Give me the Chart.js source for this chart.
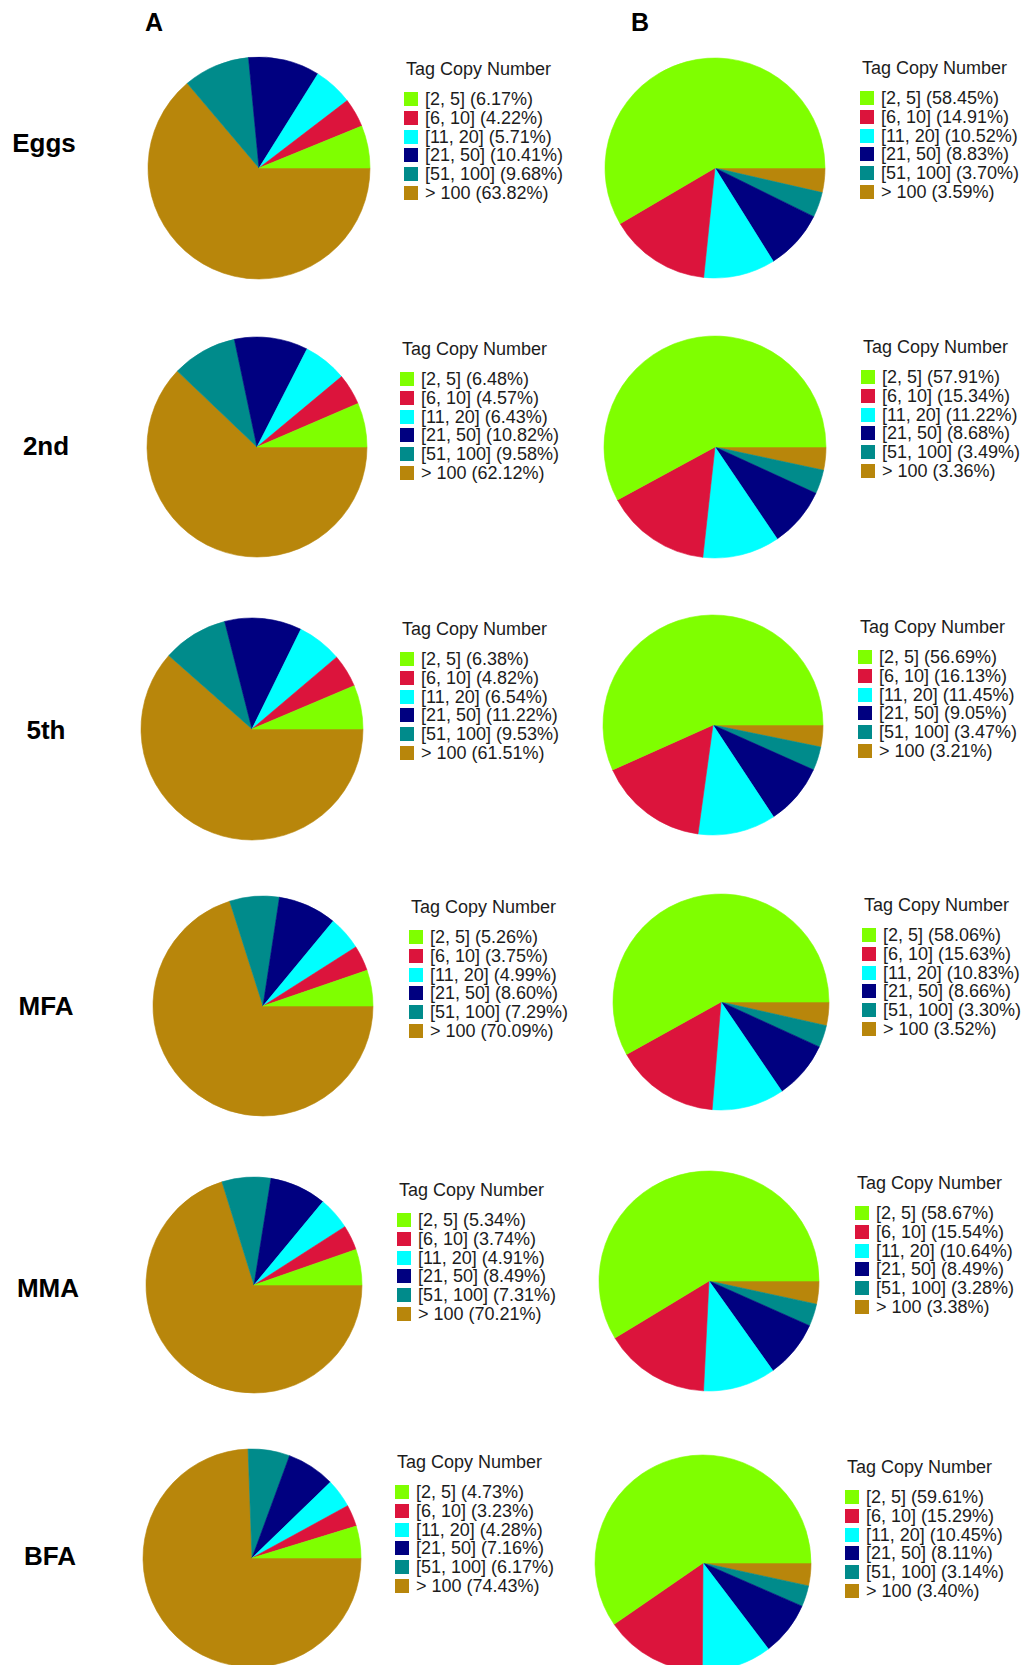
<!DOCTYPE html>
<html>
<head>
<meta charset="utf-8">
<script src="https://cdn.jsdelivr.net/npm/chart.js@4.4.0/dist/chart.umd.min.js"></script>
<style>
  html, body { margin: 0; padding: 0; background: #ffffff; }
  body { width: 1026px; height: 1665px; position: relative; overflow: hidden; font-family: "Liberation Sans", Arial, sans-serif; }
  .hdr { position: absolute; font-weight: bold; font-size: 25px; color: #000; line-height: 1; transform: translate(-50%, -50%); white-space: nowrap; }
  .row { position: absolute; font-weight: bold; font-size: 26px; color: #000; line-height: 1; transform: translate(-50%, -50%); white-space: nowrap; }
  .pie { position: absolute; }
  .lg { position: absolute; font-size: 18px; color: #1c1c1c; white-space: nowrap; line-height: 1; }
  .lg .t { position: absolute; left: 2px; transform: translateY(-50%); }
  .lg .it { position: absolute; left: 0; height: 18px; transform: translateY(-50%); display: flex; align-items: center; }
  .lg .sw { width: 14px; height: 14px; margin-right: 7px; flex: none; }
</style>
</head>
<body>
<script>
// ---- data ----
const categories = ['[2, 5]', '[6, 10]', '[11, 20]', '[21, 50]', '[51, 100]', '> 100'];
const stages = ['Eggs', '2nd', '5th', 'MFA', 'MMA', 'BFA'];
const columns = ['A', 'B'];
const legendTitle = 'Tag Copy Number';

// Panel A (percent of tags by copy-number class)
const eggsA   = [6.17, 4.22, 5.71, 10.41, 9.68, 63.82];
const secondA = [6.48, 4.57, 6.43, 10.82, 9.58, 62.12];
const fifthA  = [6.38, 4.82, 6.54, 11.22, 9.53, 61.51];
const mfaA    = [5.26, 3.75, 4.99, 8.60, 7.29, 70.09];
const mmaA    = [5.34, 3.74, 4.91, 8.49, 7.31, 70.21];
const bfaA    = [4.73, 3.23, 4.28, 7.16, 6.17, 74.43];

// Panel B
const eggsB   = [58.45, 14.91, 10.52, 8.83, 3.70, 3.59];
const secondB = [57.91, 15.34, 11.22, 8.68, 3.49, 3.36];
const fifthB  = [56.69, 16.13, 11.45, 9.05, 3.47, 3.21];
const mfaB    = [58.06, 15.63, 10.83, 8.66, 3.30, 3.52];
const mmaB    = [58.67, 15.54, 10.64, 8.49, 3.28, 3.38];
const bfaB    = [59.61, 15.29, 10.45, 8.11, 3.14, 3.40];

const seriesA = [eggsA, secondA, fifthA, mfaA, mmaA, bfaA];
const seriesB = [eggsB, secondB, fifthB, mfaB, mmaB, bfaB];

// ---- styles / layout ----
const colors = ['#7FFF00', '#DC143C', '#00FFFF', '#000080', '#008B8B', '#B8860B'];

const headerPos = [[154, 22], [640, 22]];
const rowLabelPos = [[44, 143], [46, 446], [46, 730], [46, 1006], [48, 1288], [50, 1556]];

// pie centre x, centre y, radius
const pieGeomA = [[259, 168, 111], [257, 447, 110], [252, 729, 111], [263, 1006, 110], [254, 1285, 108], [252, 1558, 109]];
const pieGeomB = [[715, 168, 110], [715, 447, 111], [713, 725, 110], [721, 1002, 108], [709, 1281, 110], [703, 1563, 108]];

// legend left x, title centre y
const legendPosA = [[404, 69], [400, 349], [400, 629], [409, 907], [397, 1190], [395, 1462]];
const legendPosB = [[860, 68], [861, 347], [858, 627], [862, 905], [855, 1183], [845, 1467]];

const itemGap = 18.8;
const firstItemOffset = 30;

function addText(cls, txt, x, y) {
  const d = document.createElement('div');
  d.className = cls;
  d.textContent = txt;
  d.style.left = x + 'px';
  d.style.top = y + 'px';
  document.body.appendChild(d);
}

columns.forEach((c, i) => addText('hdr', c, headerPos[i][0], headerPos[i][1]));
stages.forEach((s, i) => addText('row', s, rowLabelPos[i][0], rowLabelPos[i][1]));

function makeLegend(values, pos) {
  const lg = document.createElement('div');
  lg.className = 'lg';
  lg.style.left = pos[0] + 'px';
  lg.style.top = pos[1] + 'px';
  const t = document.createElement('div');
  t.className = 't';
  t.style.top = '0px';
  t.textContent = legendTitle;
  lg.appendChild(t);
  categories.forEach((cat, k) => {
    const it = document.createElement('div');
    it.className = 'it';
    it.style.top = (firstItemOffset + k * itemGap) + 'px';
    const sw = document.createElement('span');
    sw.className = 'sw';
    sw.style.background = colors[k];
    const tx = document.createElement('span');
    tx.textContent = cat + ' (' + values[k].toFixed(2) + '%)';
    it.appendChild(sw);
    it.appendChild(tx);
    lg.appendChild(it);
  });
  document.body.appendChild(lg);
}

function makePie(values, geom) {
  const [cx, cy, r] = geom;
  const pad = 3;
  const size = 2 * r + 2 * pad;
  const wrap = document.createElement('div');
  wrap.className = 'pie';
  wrap.style.left = (cx - r - pad) + 'px';
  wrap.style.top = (cy - r - pad) + 'px';
  wrap.style.width = size + 'px';
  wrap.style.height = size + 'px';
  const cv = document.createElement('canvas');
  cv.width = size;
  cv.height = size;
  wrap.appendChild(cv);
  document.body.appendChild(wrap);
  // The original draws counter-clockwise from 3 o'clock; Chart.js draws clockwise,
  // so feed the categories in reverse order starting at 3 o'clock.
  const revLabels = categories.slice().reverse();
  const revValues = values.slice().reverse();
  const revColors = colors.slice().reverse();
  new Chart(cv, {
    type: 'pie',
    data: {
      labels: revLabels,
      datasets: [{
        data: revValues,
        backgroundColor: revColors,
        borderColor: revColors,
        borderWidth: 0.6,
        radius: r
      }]
    },
    options: {
      responsive: false,
      devicePixelRatio: 1,
      animation: false,
      rotation: 90,
      layout: { padding: 0 },
      plugins: { legend: { display: false }, tooltip: { enabled: false } }
    }
  });
}

seriesA.forEach((v, i) => { makePie(v, pieGeomA[i]); makeLegend(v, legendPosA[i]); });
seriesB.forEach((v, i) => { makePie(v, pieGeomB[i]); makeLegend(v, legendPosB[i]); });
</script>
</body>
</html>
